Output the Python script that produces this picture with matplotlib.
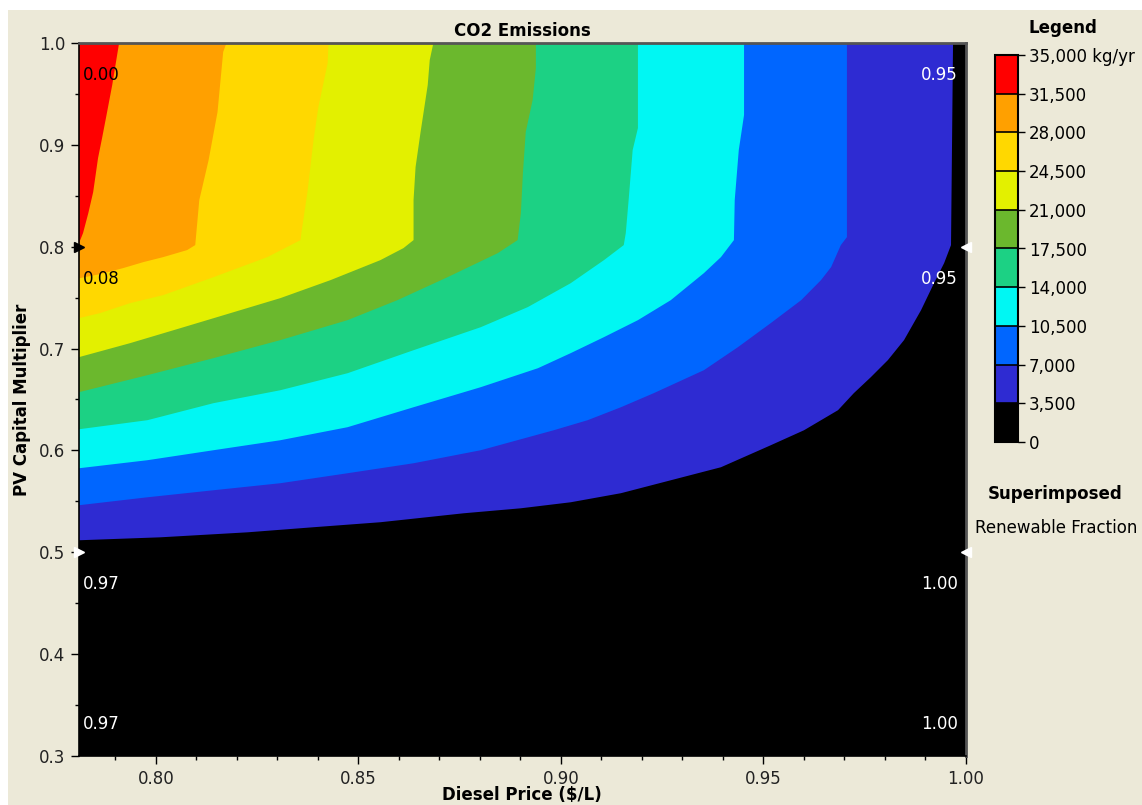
import matplotlib
matplotlib.use("Agg")
import matplotlib.pyplot as plt
from matplotlib.colors import ListedColormap, BoundaryNorm
from matplotlib.cm import ScalarMappable
from matplotlib.patches import Rectangle
from matplotlib.ticker import FixedLocator, MultipleLocator, FormatStrFormatter

# CO2 emission bands (kg/yr)
levels = [0, 3500, 7000, 10500, 14000, 17500, 21000, 24500, 28000, 31500, 35000]
level_labels = ["0", "3,500", "7,000", "10,500", "14,000", "17,500",
                "21,000", "24,500", "28,000", "31,500", "35,000 kg/yr"]
band_colors = ["#000000", "#2E2BD2", "#0066FF", "#00F7F3", "#1CD184",
               "#6BB82D", "#E3F000", "#FFD800", "#FFA000", "#FF0000"]

# band boundaries: diesel price ($/L) -> PV capital multiplier
co2_3500_price = [0.781, 0.8011, 0.8226, 0.8389, 0.8554, 0.8760, 0.8901, 0.9024, 0.9148, 0.9271,
                  0.9395, 0.9518, 0.9600, 0.9684, 0.9723, 0.9765, 0.9807, 0.9847, 0.9889, 0.9921,
                  0.9946, 0.9963, 0.9968]
co2_3500_pv = [0.5118, 0.5147, 0.5196, 0.5246, 0.5295, 0.5383, 0.5432, 0.5491, 0.5580, 0.5707,
               0.5835, 0.6051, 0.6198, 0.6395, 0.6562, 0.6719, 0.6886, 0.7083, 0.7377, 0.7642,
               0.7839, 0.8016, 1.0]

co2_7000_price = [0.781, 0.7979, 0.8142, 0.8307, 0.8473, 0.8636, 0.8802, 0.8982, 0.9066, 0.9148,
                  0.9229, 0.9353, 0.9437, 0.9518, 0.9593, 0.9642, 0.9667, 0.9691, 0.9706, 0.9706]
co2_7000_pv = [0.5462, 0.5540, 0.5609, 0.5678, 0.5776, 0.5874, 0.6002, 0.6198, 0.6297, 0.6424,
               0.6562, 0.6788, 0.7014, 0.7250, 0.7475, 0.7672, 0.7800, 0.8016, 0.8094, 1.0]

co2_10500_price = [0.781, 0.7979, 0.8142, 0.8307, 0.8473, 0.8636, 0.8802, 0.8943, 0.9024, 0.9106,
                   0.9190, 0.9271, 0.9353, 0.9395, 0.9427, 0.9429, 0.9439, 0.9452, 0.9452]
co2_10500_pv = [0.5825, 0.5904, 0.6002, 0.6100, 0.6228, 0.6424, 0.6621, 0.6807, 0.6955, 0.7112,
                0.7279, 0.7475, 0.7741, 0.7898, 0.8065, 0.8458, 0.8949, 0.9293, 1.0]

co2_14000_price = [0.781, 0.7979, 0.8142, 0.8307, 0.8473, 0.8636, 0.8802, 0.8918, 0.9024, 0.9106,
                   0.9155, 0.9160, 0.9167, 0.9177, 0.9190, 0.9190]
co2_14000_pv = [0.6208, 0.6297, 0.6464, 0.6591, 0.6758, 0.6984, 0.7210, 0.7407, 0.7642, 0.7868,
                0.8016, 0.8134, 0.8458, 0.8949, 0.9165, 1.0]

co2_17500_price = [0.781, 0.7979, 0.8142, 0.8307, 0.8473, 0.8596, 0.8720, 0.8844, 0.8893, 0.8901,
                   0.8906, 0.8913, 0.8930, 0.8938, 0.8938]
co2_17500_pv = [0.6572, 0.6739, 0.6906, 0.7083, 0.7279, 0.7475, 0.7701, 0.7937, 0.8065, 0.8330,
                0.8723, 0.9126, 0.9440, 0.9754, 1.0]

co2_21000_price = [0.781, 0.7936, 0.8060, 0.8184, 0.8307, 0.8431, 0.8554, 0.8611, 0.8636, 0.8636,
                   0.8641, 0.8653, 0.8671, 0.8676, 0.8685]
co2_21000_pv = [0.6916, 0.7053, 0.7200, 0.7348, 0.7495, 0.7672, 0.7868, 0.7986, 0.8065, 0.8458,
                0.8782, 0.9116, 0.9587, 0.9833, 1.0]

co2_24500_price = [0.781, 0.7862, 0.7936, 0.8018, 0.8142, 0.8275, 0.8357, 0.8359, 0.8374, 0.8389,
                   0.8401, 0.8424, 0.8426]
co2_24500_pv = [0.7299, 0.7348, 0.7446, 0.7525, 0.7701, 0.7898, 0.8065, 0.8134, 0.8536, 0.9047,
                0.9371, 0.9804, 1.0]

co2_28000_price = [0.781, 0.7862, 0.7919, 0.7969, 0.8018, 0.8077, 0.8097, 0.8107, 0.8130, 0.8152,
                   0.8166, 0.8174]
co2_28000_pv = [0.7690, 0.7731, 0.7790, 0.7849, 0.7898, 0.7967, 0.8016, 0.8458, 0.8850, 0.9322,
                0.9912, 1.0]

co2_31500_price = [0.781, 0.7820, 0.7833, 0.7845, 0.7857, 0.7867, 0.7877, 0.7892, 0.7909]
co2_31500_pv = [0.8035, 0.8134, 0.8330, 0.8536, 0.8870, 0.9067, 0.9273, 0.9587, 1.0]

# superimposed renewable fraction at the sensitivity points
rf_price = [0.781, 1.0]
rf_pv = [1.0, 0.8, 0.5, 0.3]
rf_left = ["0.00", "0.08", "0.97", "0.97"]
rf_right = ["0.95", "0.95", "1.00", "1.00"]

W, H = 1142, 805
BG = "#ECE9D8"
FONT = "DejaVu Sans"
plt.rcParams["font.family"] = FONT
plt.rcParams["font.size"] = 12

fig = plt.figure(figsize=(W / 100, H / 100), dpi=100, facecolor="white")
fig.add_artist(Rectangle((8 / W, 0), 1, 1 - 10 / H, transform=fig.transFigure,
                         facecolor=BG, edgecolor="none", zorder=-10))

ax = fig.add_axes([79 / W, 1 - 756 / H, (966 - 79) / W, (756 - 43) / H])
x_min, x_max = 0.781, 1.0
ax.set_xlim(x_min, x_max)
ax.set_ylim(0.3, 1.0)
ax.set_facecolor(band_colors[0])

boundaries = [
    (co2_3500_price, co2_3500_pv),
    (co2_7000_price, co2_7000_pv),
    (co2_10500_price, co2_10500_pv),
    (co2_14000_price, co2_14000_pv),
    (co2_17500_price, co2_17500_pv),
    (co2_21000_price, co2_21000_pv),
    (co2_24500_price, co2_24500_pv),
    (co2_28000_price, co2_28000_pv),
    (co2_31500_price, co2_31500_pv),
]
for i, (bx, by) in enumerate(boundaries):
    ax.fill(list(bx) + [x_min], list(by) + [1.0], color=band_colors[i + 1], lw=0, zorder=1 + i)

# ticks
ax.xaxis.set_major_locator(FixedLocator([0.80, 0.85, 0.90, 0.95, 1.00]))
ax.xaxis.set_minor_locator(MultipleLocator(0.01))
ax.xaxis.set_major_formatter(FormatStrFormatter("%.2f"))
ax.yaxis.set_major_locator(MultipleLocator(0.1))
ax.yaxis.set_minor_locator(MultipleLocator(0.05))
ax.yaxis.set_major_formatter(FormatStrFormatter("%.1f"))
ax.tick_params(which="major", length=6, width=1, colors="black", labelcolor="#222222", pad=4)
ax.tick_params(which="minor", length=3, width=1)
for side in ["left", "bottom"]:
    ax.spines[side].set_color("black")
    ax.spines[side].set_linewidth(1.2)
for side in ["top", "right"]:
    ax.spines[side].set_color("#555555")
    ax.spines[side].set_linewidth(2)
for s in ax.spines.values():
    s.set_zorder(20)

# superimposed renewable fraction values
for j, pv in enumerate(rf_pv):
    dy = 27 if pv == 0.3 else -37
    left_color = "black" if j < 2 else "white"
    ax.annotate(rf_left[j], xy=(rf_price[0], pv), xytext=(4, dy), textcoords="offset pixels",
                ha="left", va="baseline", color=left_color, fontsize=12, zorder=30)
    ax.annotate(rf_right[j], xy=(rf_price[1], pv), xytext=(-8, dy), textcoords="offset pixels",
                ha="right", va="baseline", color="white", fontsize=12, zorder=30)
    if 0.3 < pv < 1.0:
        ax.plot(rf_price[0], pv, marker=">", ms=7, color=left_color, clip_on=False, zorder=31)
        ax.plot(rf_price[1], pv, marker="<", ms=7, color="white", clip_on=False, zorder=31)

ax.set_title("CO2 Emissions", fontsize=12, fontweight="bold", pad=5)
fig.text(22 / W, 1 - 400 / H, "PV Capital Multiplier", rotation=90, ha="center", va="center",
         fontsize=12, fontweight="bold")
fig.text(522 / W, 1 / H, "Diesel Price ($/L)", ha="center", va="bottom", fontsize=12, fontweight="bold")

# legend colour bar
cax = fig.add_axes([995 / W, 1 - 442 / H, 23 / W, 387 / H])
cmap = ListedColormap(band_colors)
norm = BoundaryNorm(levels, cmap.N)
cb = fig.colorbar(ScalarMappable(norm=norm, cmap=cmap), cax=cax, ticks=levels, drawedges=True)
cb.ax.set_yticklabels(level_labels)
cb.outline.set_linewidth(1.5)
cb.dividers.set_linewidth(1.2)
cb.ax.tick_params(length=5, width=1, pad=3, labelsize=12)

fig.text(1028 / W, 1 - 28 / H, "Legend", ha="left", va="center", fontsize=12, fontweight="bold")
fig.text(988 / W, 1 - 494 / H, "Superimposed", ha="left", va="center", fontsize=12, fontweight="bold")
fig.text(975 / W, 1 - 528 / H, "Renewable Fraction", ha="left", va="center", fontsize=12)

fig.savefig("out.png", dpi=100, facecolor=fig.get_facecolor())
